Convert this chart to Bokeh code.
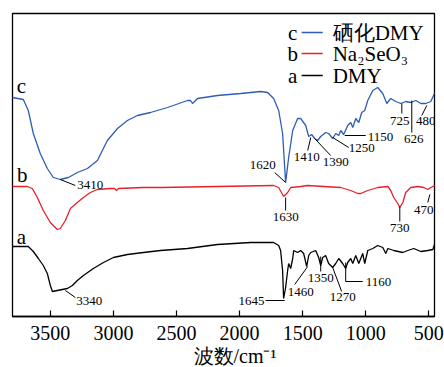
from bokeh.plotting import figure
from bokeh.models import Range1d, Label, FixedTicker, Title
from bokeh.core.properties import value
from bokeh.embed import file_html
from bokeh.resources import INLINE

# wavenumber (cm-1) and transmittance (a.u., offset) for each spectrum
c_wn = [3802, 3714, 3675, 3635, 3580, 3524, 3476, 3421, 3357, 3286, 3206, 3127, 3048, 2968, 2889, 2810,
        2706, 2571, 2413, 2389, 2373, 2365, 2333, 2175, 1992, 1833, 1778, 1730, 1690, 1659, 1635, 1611,
        1579, 1540, 1516, 1476, 1452, 1429, 1405, 1381, 1357, 1318, 1294, 1262, 1238, 1214, 1198, 1175,
        1143, 1119, 1103, 1079, 1055, 1032, 1008, 984, 944, 905, 865, 833, 802, 762, 722, 683, 643, 603,
        563, 524, 484, 452]
c_t = [219, 217, 206, 183, 163, 148, 139, 137, 139, 144, 148, 156, 176, 188, 196, 201,
       204, 209, 216, 216, 213, 214, 218, 221, 223, 225, 224, 218, 206, 183, 134, 159,
       186, 198, 198, 191, 180, 182, 178, 176, 180, 184, 183, 178, 183, 181, 186, 182,
       191, 194, 189, 198, 194, 204, 206, 216, 226, 229, 223, 213, 218, 215, 213, 215, 214, 216,
       213, 213, 215, 224]

b_wn = [3802, 3683, 3643, 3603, 3556, 3500, 3445, 3421, 3381, 3341, 3286, 3238, 3183, 3127, 3024, 2992,
        2976, 2960, 2762, 2627, 2175, 1730, 1690, 1651, 1619, 1595, 1516, 1460, 1333, 1198, 1119, 1063,
        1040, 984, 905, 825, 802, 778, 746, 730, 706, 683, 643, 587, 540, 508, 484, 452]
b_t = [130, 130, 128, 119, 106, 94, 87, 88, 96, 108, 114, 119, 124, 127, 128, 128,
       126, 128, 129, 129, 130, 131, 129, 120, 124, 129, 130, 131, 130, 129, 126, 123,
       123, 126, 129, 130, 126, 119, 113, 109, 114, 124, 129, 130, 129, 127, 129, 131]

a_wn = [3802, 3675, 3635, 3595, 3556, 3524, 3500, 3484, 3445, 3405, 3365, 3325, 3286, 3238, 3159, 3079,
        3000, 2889, 2762, 2627, 2413, 2175, 1912, 1730, 1690, 1675, 1659, 1651, 1635, 1619, 1611, 1595,
        1579, 1571, 1540, 1516, 1492, 1468, 1452, 1436, 1397, 1373, 1357, 1341, 1318, 1294, 1262, 1238,
        1214, 1183, 1159, 1143, 1119, 1103, 1079, 1055, 1024, 1008, 984, 944, 905, 865, 841, 825, 778,
        706, 667, 619, 563, 508, 468, 452]
a_t = [70, 70, 65, 58, 51, 43, 31, 25, 26, 27, 28, 31, 36, 41, 48, 54,
       59, 62, 64, 66, 68, 72, 74, 74, 71, 66, 46, 18, 29, 46, 53, 48,
       58, 66, 64, 66, 63, 50, 61, 64, 66, 59, 51, 59, 61, 53, 49, 53,
       58, 53, 48, 54, 58, 53, 61, 53, 63, 53, 66, 68, 71, 69, 63, 68, 66,
       64, 66, 68, 65, 66, 67, 73]

x_ticks = [3500, 3000, 2500, 2000, 1500, 1000, 500]

series_keys = ["c", "b", "a"]
series_names = ["硒化DMY", "Na₂SeO₃", "DMY"]
series_colors = ["#2f5db3", "#e8202a", "black"]

# peak annotations: label, text position, alignment, leader line
pk_text = ["3410", "1620", "1410", "1390", "1250", "1150", "725", "626", "480",
           "1630", "730", "470",
           "3340", "1645", "1460", "1350", "1270", "1160"]
pk_x = [3286, 1714, 1468, 1238, 1032, 984, 730, 619, 524,
        1635, 730, 540,
        3294, 1802, 1516, 1357, 1183, 1000]
pk_y = [132, 152, 160, 155, 169, 180, 196, 178, 196,
        100, 89, 107,
        16, 16, 25, 39, 20, 35]
pk_align = ["left", "right", "center", "center", "center", "left", "center", "center", "center",
            "center", "center", "center",
            "left", "right", "center", "center", "center", "left"]
ld_x0 = [3421, 1722, 1460, 1405, 1262, 1167, 714, 635, 516, 1635, 730, 492, 3381, 1794, 1563, 1357, 1262, 1159, 1159]
ld_y0 = [137, 144, 166, 178, 179, 181, 213, 216, 211, 119, 110, 122, 26, 16, 32, 60, 49, 54, 35]
ld_x1 = [3302, 1635, 1436, 1278, 1135, 1000, 714, 635, 556, 1635, 730, 508, 3302, 1643, 1460, 1357, 1191, 1159, 1024]
ld_y1 = [131, 134, 179, 161, 169, 181, 203, 184, 201, 106, 95, 114, 19, 16, 50, 45, 25, 35, 35]

SERIF = "Liberation Serif"

p = figure(width=444, height=367, output_backend="svg", toolbar_location=None,
           x_range=Range1d(3800, 455), y_range=Range1d(0, 303),
           min_border_left=12, min_border_right=10, min_border_top=13, min_border_bottom=51)
p.background_fill_color = "white"
p.border_fill_color = "white"
p.outline_line_color = "black"
p.outline_line_width = 1.3
p.grid.visible = False
p.yaxis.visible = False

ax = p.xaxis[0]
ax.ticker = FixedTicker(ticks=x_ticks)
ax.major_tick_in = 6
ax.major_tick_out = 0
ax.minor_tick_line_color = None
ax.major_tick_line_color = "black"
ax.major_tick_line_width = 1.2
ax.axis_line_color = "black"
ax.axis_line_width = 1.3
ax.major_label_text_font = SERIF
ax.major_label_text_font_size = "20px"
ax.major_label_text_color = "black"
ax.major_label_standoff = 9

for wn, t, col in [(c_wn, c_t, series_colors[0]), (b_wn, b_t, series_colors[1]), (a_wn, a_t, series_colors[2])]:
    p.line(wn, t, line_color=col, line_width=1.3)

p.segment(x0=ld_x0, y0=ld_y0, x1=ld_x1, y1=ld_y1, line_color="black", line_width=1)
for al in ["left", "right", "center"]:
    idx = [i for i, a in enumerate(pk_align) if a == al]
    p.text(x=[pk_x[i] for i in idx], y=[pk_y[i] for i in idx], text=[pk_text[i] for i in idx],
           text_align=al, text_baseline="middle", text_font=value(SERIF),
           text_font_size="13px", text_color="black")

# curve letters
for t, xx, yy in zip(series_keys, [3730, 3722, 3730], [231, 142, 80]):
    p.add_layout(Label(x=xx, y=yy, text=t, text_font=SERIF, text_font_size="21px",
                       text_align="center", text_baseline="middle", text_color="black"))

# legend (key letter, sample line, name)
leg_y = [284, 263, 241]
p.segment(x0=[1508] * 3, x1=[1341] * 3, y0=leg_y, y1=leg_y, line_color=series_colors, line_width=1.3)
p.text(x=[1579] * 3, y=leg_y, text=series_keys, text_align="center", text_baseline="middle",
       text_font=value(SERIF), text_font_size="21px", text_color="black")
p.text(x=[1262] * 3, y=leg_y, text=series_names, text_align="left", text_baseline="middle",
       text_font=value(SERIF), text_font_size="21px", text_color="black")

xt = Title(text="波数/cm⁻¹", align="left", offset=181, text_font=SERIF, text_font_size="20px",
           text_font_style="normal", text_color="black", standoff=0)
p.add_layout(xt, "below")

open("out.html", "w").write(file_html(p, INLINE))
